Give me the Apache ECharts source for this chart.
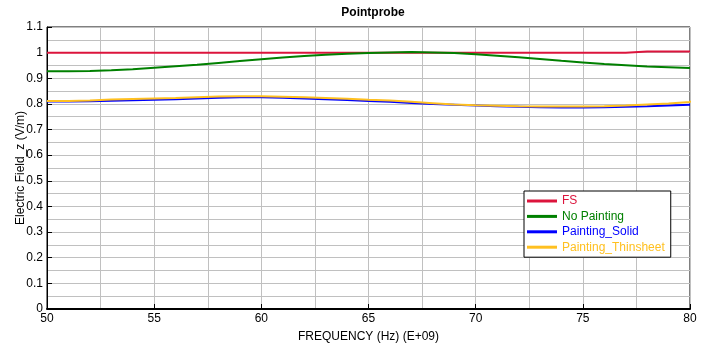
<!DOCTYPE html>
<html>
<head>
<meta charset="utf-8">
<script src="https://cdn.jsdelivr.net/npm/echarts@6/dist/echarts.min.js"></script>
<style>
  html, body { margin: 0; padding: 0; background: #fff; }
  #chart { width: 704px; height: 351px; }
</style>
</head>
<body>
<div id="chart"></div>
<script>
// frequency in GHz (E+09)
const freq = [50, 51, 52, 53, 54, 55, 56, 57, 58, 59, 60, 61, 62, 63, 64, 65,
  66, 67, 68, 69, 70, 71, 72, 73, 74, 75, 76, 77, 78, 79, 80]

const fs = [1.0, 1.0, 1.0, 1.0, 1.0, 1.0, 1.0, 1.0, 1.0, 1.0, 1.0, 1.0, 1.0, 1.0, 1.0, 1.0,
  1.0, 1.0, 1.0, 1.0, 1.0, 1.0, 1.0, 1.0, 1.0, 1.0, 1.0, 1.004, 1.004, 1.004, 1.004]

const noPainting = [0.927, 0.928, 0.931, 0.935, 0.941, 0.947, 0.953, 0.960, 0.967, 0.974,
  0.981, 0.987, 0.992, 0.996, 0.999, 1.001, 1.002, 1.001, 0.999, 0.994, 0.988, 0.982,
  0.975, 0.968, 0.962, 0.956, 0.951, 0.946, 0.943, 0.940, 0.939]

const paintingSolid = [0.809, 0.810, 0.812, 0.814, 0.816, 0.818, 0.821, 0.824, 0.826, 0.826,
  0.824, 0.821, 0.818, 0.815, 0.811, 0.808, 0.804, 0.800, 0.797, 0.794, 0.791, 0.789,
  0.787, 0.786, 0.786, 0.787, 0.789, 0.791, 0.794, 0.797, 0.799]

const paintingThinsheet = [0.811, 0.813, 0.817, 0.819, 0.821, 0.823, 0.826, 0.829, 0.830, 0.830,
  0.828, 0.826, 0.823, 0.820, 0.816, 0.813, 0.808, 0.803, 0.798, 0.795, 0.793, 0.791,
  0.790, 0.790, 0.790, 0.791, 0.794, 0.798, 0.802, 0.807, 0.812]

const seriesNames = ['FS', 'No Painting', 'Painting_Solid', 'Painting_Thinsheet']
const seriesColors = ['#dc143c', '#008000', '#0000ff', '#ffc020']
const seriesValues = [fs, noPainting, paintingSolid, paintingThinsheet]

const myChart = echarts.init(document.getElementById('chart'))

const font = 'Liberation Sans, Arial, sans-serif'

const option = {
  animation: false,
  title: {
    text: 'Pointprobe',
    left: 368,
    top: 2,
    textAlign: 'center',
    textStyle: { fontFamily: font, fontSize: 12, fontWeight: 'bold', color: '#000' }
  },
  grid: {
    left: 47,
    right: 14,
    top: 27,
    bottom: 42,
    show: true,
    borderColor: '#000',
    borderWidth: 1
  },
  legend: {
    orient: 'vertical',
    left: 524,
    top: 191,
    padding: [4, 6, 4, 3],
    itemGap: 3.4,
    itemWidth: 30,
    itemHeight: 3,
    icon: 'rect',
    backgroundColor: '#fff',
    borderColor: '#000',
    borderWidth: 1,
    borderRadius: 0,
    textStyle: { fontFamily: font, fontSize: 12 },
    data: seriesNames.map((n, i) => ({ name: n, textStyle: { color: seriesColors[i] } }))
  },
  xAxis: {
    type: 'value',
    min: 50,
    max: 80,
    interval: 5,
    name: 'FREQUENCY (Hz) (E+09)',
    nameLocation: 'middle',
    nameGap: 22,
    nameMoveOverlap: false,
    nameTextStyle: { fontFamily: font, fontSize: 12, color: '#000' },
    axisLine: { lineStyle: { color: '#000', width: 2 } },
    axisTick: { inside: true, length: 5, lineStyle: { color: '#000' } },
    axisLabel: { fontFamily: font, fontSize: 12, color: '#000', margin: 4 },
    splitLine: { show: true, lineStyle: { color: '#c0c0c0', width: 1 } },
    minorTick: { show: false, splitNumber: 2 },
    minorSplitLine: { show: true, lineStyle: { color: '#c0c0c0', width: 1 } }
  },
  yAxis: {
    type: 'value',
    min: 0,
    max: 1.1,
    interval: 0.1,
    name: 'Electric Field_z (V/m)',
    nameLocation: 'middle',
    nameGap: 20,
    nameMoveOverlap: false,
    nameTextStyle: { fontFamily: font, fontSize: 12, color: '#000' },
    axisLine: { show: true, lineStyle: { color: '#000', width: 1 } },
    axisTick: { show: true, inside: true, length: 5, lineStyle: { color: '#000' } },
    axisLabel: { fontFamily: font, fontSize: 12, color: '#000', margin: 4 },
    splitLine: { show: true, lineStyle: { color: '#c0c0c0', width: 1 } },
    minorTick: { show: false, splitNumber: 2 },
    minorSplitLine: { show: true, lineStyle: { color: '#c0c0c0', width: 1 } }
  },
  series: seriesNames.map((n, i) => ({
    name: n,
    type: 'line',
    step: 'end',
    showSymbol: false,
    color: seriesColors[i],
    lineStyle: { width: 2, color: seriesColors[i] },
    data: freq.map((f, j) => [f, seriesValues[i][j]])
  }))
}

myChart.setOption(option)
</script>
</body>
</html>
